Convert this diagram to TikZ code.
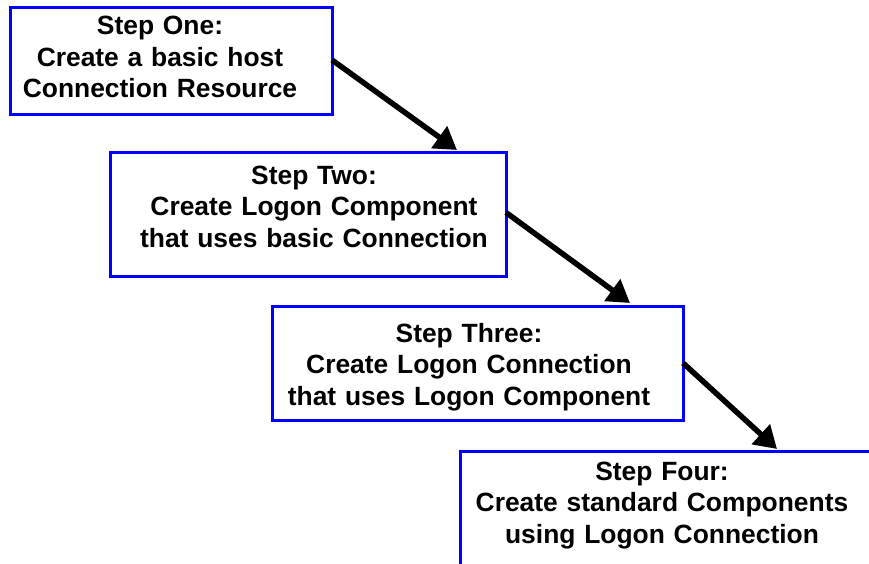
\documentclass[tikz,border=0pt]{standalone}
\usepackage{fontspec}
\setmainfont{Liberation Sans}
\usetikzlibrary{arrows.meta}
\begin{document}
\begin{tikzpicture}[x=1pt,y=-1pt,
  box/.style={draw=blue, line width=3pt, rectangle, inner sep=0pt, outer sep=0pt},
  txt/.style={font=\fontsize{26.4pt}{31.5pt}\selectfont\bfseries, align=center, anchor=base, inner sep=0pt, text width=420pt},
  arr/.style={line width=5.5pt, -{Triangle[length=22pt,width=26pt]}}]
\clip (0,0) rectangle (869,564);
\fill[white] (0,0) rectangle (869,564);
% boxes
\node[box, minimum width=322pt, minimum height=107pt] (b1) at (171,61.5) {};
\node[box, minimum width=396pt, minimum height=123pt] (b2) at (308,214.5) {};
\node[box, minimum width=411pt, minimum height=114pt] (b3) at (477.5,363) {};
\node[box, minimum width=420pt, minimum height=129pt] (b4) at (670,515.5) {};
% texts
\node[txt] (t1) at (160,35) {Step One:\\Create a basic host\\Connection Resource};
\node[txt] (t2) at (314,184) {Step Two:\\Create Logon Component\\that uses basic Connection};
\node[txt] (t3) at (469,342) {Step Three:\\Create Logon Connection\\that uses Logon Component};
\node[txt] (t4) at (662,480) {Step Four:\\Create standard Components\\using Logon Connection};
% arrows
\draw[arr] ([yshift=1.5pt]b1.east) -- ([xshift=347pt,yshift=3pt]b2.north west);
\draw[arr] ([yshift=2pt]b2.east) -- ([xshift=358pt,yshift=3pt]b3.north west);
\draw[arr] (b3.east) -- ([xshift=317pt,yshift=2pt]b4.north west);
\end{tikzpicture}
\end{document}
